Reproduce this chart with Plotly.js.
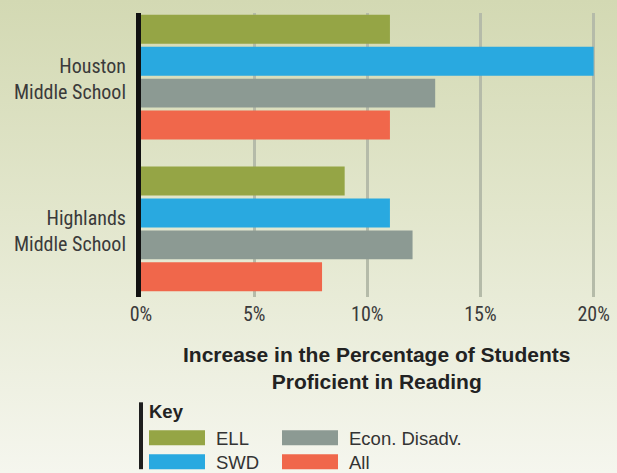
<!DOCTYPE html>
<html>
<head>
<meta charset="utf-8">
<script src="https://cdn.plot.ly/plotly-3.0.1.min.js"></script>
<style>
  html, body { margin: 0; padding: 0; }
  body { width: 617px; height: 473px; background: linear-gradient(to bottom, #d3d9b3 0%, #e2e6cc 45%, #f5f6ee 100%); }
  #chart { width: 617px; height: 473px; }
</style>
</head>
<body>
<div id="chart"></div>
<script>
const schools = ["Houston<br>Middle School", "Highlands<br>Middle School"];
const seriesNames = ["ELL", "SWD", "Econ. Disadv.", "All"];
const ell = [11, 9];
const swd = [20, 11];
const econ = [13, 12];
const all = [11, 8];
const tickVals = [0, 5, 10, 15, 20];
const tickText = ["0%", "5%", "10%", "15%", "20%"];
const colors = ["#95a545", "#29a9e0", "#8c9a93", "#f0674b"];
const seriesValues = [ell, swd, econ, all];

const condensed = "Roboto Condensed, Liberation Sans Narrow, DejaVu Sans Condensed, Arial Narrow, Roboto, sans-serif";
const sans = "Liberation Sans, Arial, Helvetica, sans-serif";

const traces = seriesNames.map((n, i) => ({
  type: 'bar', orientation: 'h', name: n,
  x: seriesValues[i], y: schools,
  marker: { color: colors[i], line: { width: 0 } },
  showlegend: false, hoverinfo: 'skip'
}));

// layout helpers (pixel -> paper)
const L = 141, R = 20, T = 13, B = 175.5, W = 617, H = 473;
const pw = W - L - R, ph = H - T - B;
const px = x => (x - L) / pw;
const py = y => (H - B - y) / ph;

const keyItems = [
  { name: "ELL", color: colors[0], x0: 149, y0: 431 },
  { name: "Econ. Disadv.", color: colors[2], x0: 282, y0: 431 },
  { name: "SWD", color: colors[1], x0: 149, y0: 455 },
  { name: "All", color: colors[3], x0: 282, y0: 455 }
];

const shapes = [
  { type: 'rect', xref: 'paper', yref: 'paper', x0: px(139), x1: px(143), y0: py(403), y1: py(470), fillcolor: '#1e1e1e', line: { width: 0 } }
];
keyItems.forEach(k => shapes.push({
  type: 'rect', xref: 'paper', yref: 'paper', x0: px(k.x0), x1: px(k.x0 + 56), y0: py(k.y0), y1: py(k.y0 + 15),
  fillcolor: k.color, line: { width: 0 }
}));

const annotations = [
  { xref: 'paper', yref: 'paper', x: px(376), y: py(368.5), xanchor: 'center', yanchor: 'middle', showarrow: false,
    text: "<b>Increase in the Percentage of Students<br>Proficient in Reading</b>",
    font: { family: sans, size: 21, color: '#222' }, align: 'center' },
  { xref: 'paper', yref: 'paper', x: px(147), y: py(412), xanchor: 'left', yanchor: 'middle', showarrow: false,
    text: "<b>Key</b>", font: { family: sans, size: 18.5, color: '#222' } }
];
keyItems.forEach(k => annotations.push({
  xref: 'paper', yref: 'paper', x: px(k.x0 + 65), y: py(k.y0 + 8), xanchor: 'left', yanchor: 'middle', showarrow: false,
  text: k.name, font: { family: sans, size: 18.5, color: '#333' }
}));

const layout = {
  width: W, height: H,
  margin: { l: L, r: R, t: T, b: B, pad: 0 },
  paper_bgcolor: 'rgba(0,0,0,0)', plot_bgcolor: 'rgba(0,0,0,0)',
  barmode: 'group', bargap: 0.158, bargroupgap: 0.094,
  xaxis: {
    range: [0, 20.15], tickvals: tickVals, ticktext: tickText,
    showgrid: true, gridcolor: '#b5bba9', gridwidth: 3, zeroline: false, showline: false,
    ticks: '', tickfont: { family: condensed, size: 20, color: '#3a3a3a' }, ticklabelstandoff: 3, fixedrange: true
  },
  yaxis: {
    type: 'category', categoryorder: 'array', categoryarray: schools,
    range: [1.449, -0.423], showgrid: false, zeroline: false,
    showline: true, linecolor: '#111', linewidth: 5, ticks: '',
    tickfont: { family: condensed, size: 20, color: '#3a3a3a' }, ticklabelstandoff: 6, ticklabelshift: -2, fixedrange: true
  },
  shapes: shapes,
  annotations: annotations,
  showlegend: false
};

Plotly.newPlot('chart', traces, layout, { staticPlot: true, displayModeBar: false });
</script>
</body>
</html>
